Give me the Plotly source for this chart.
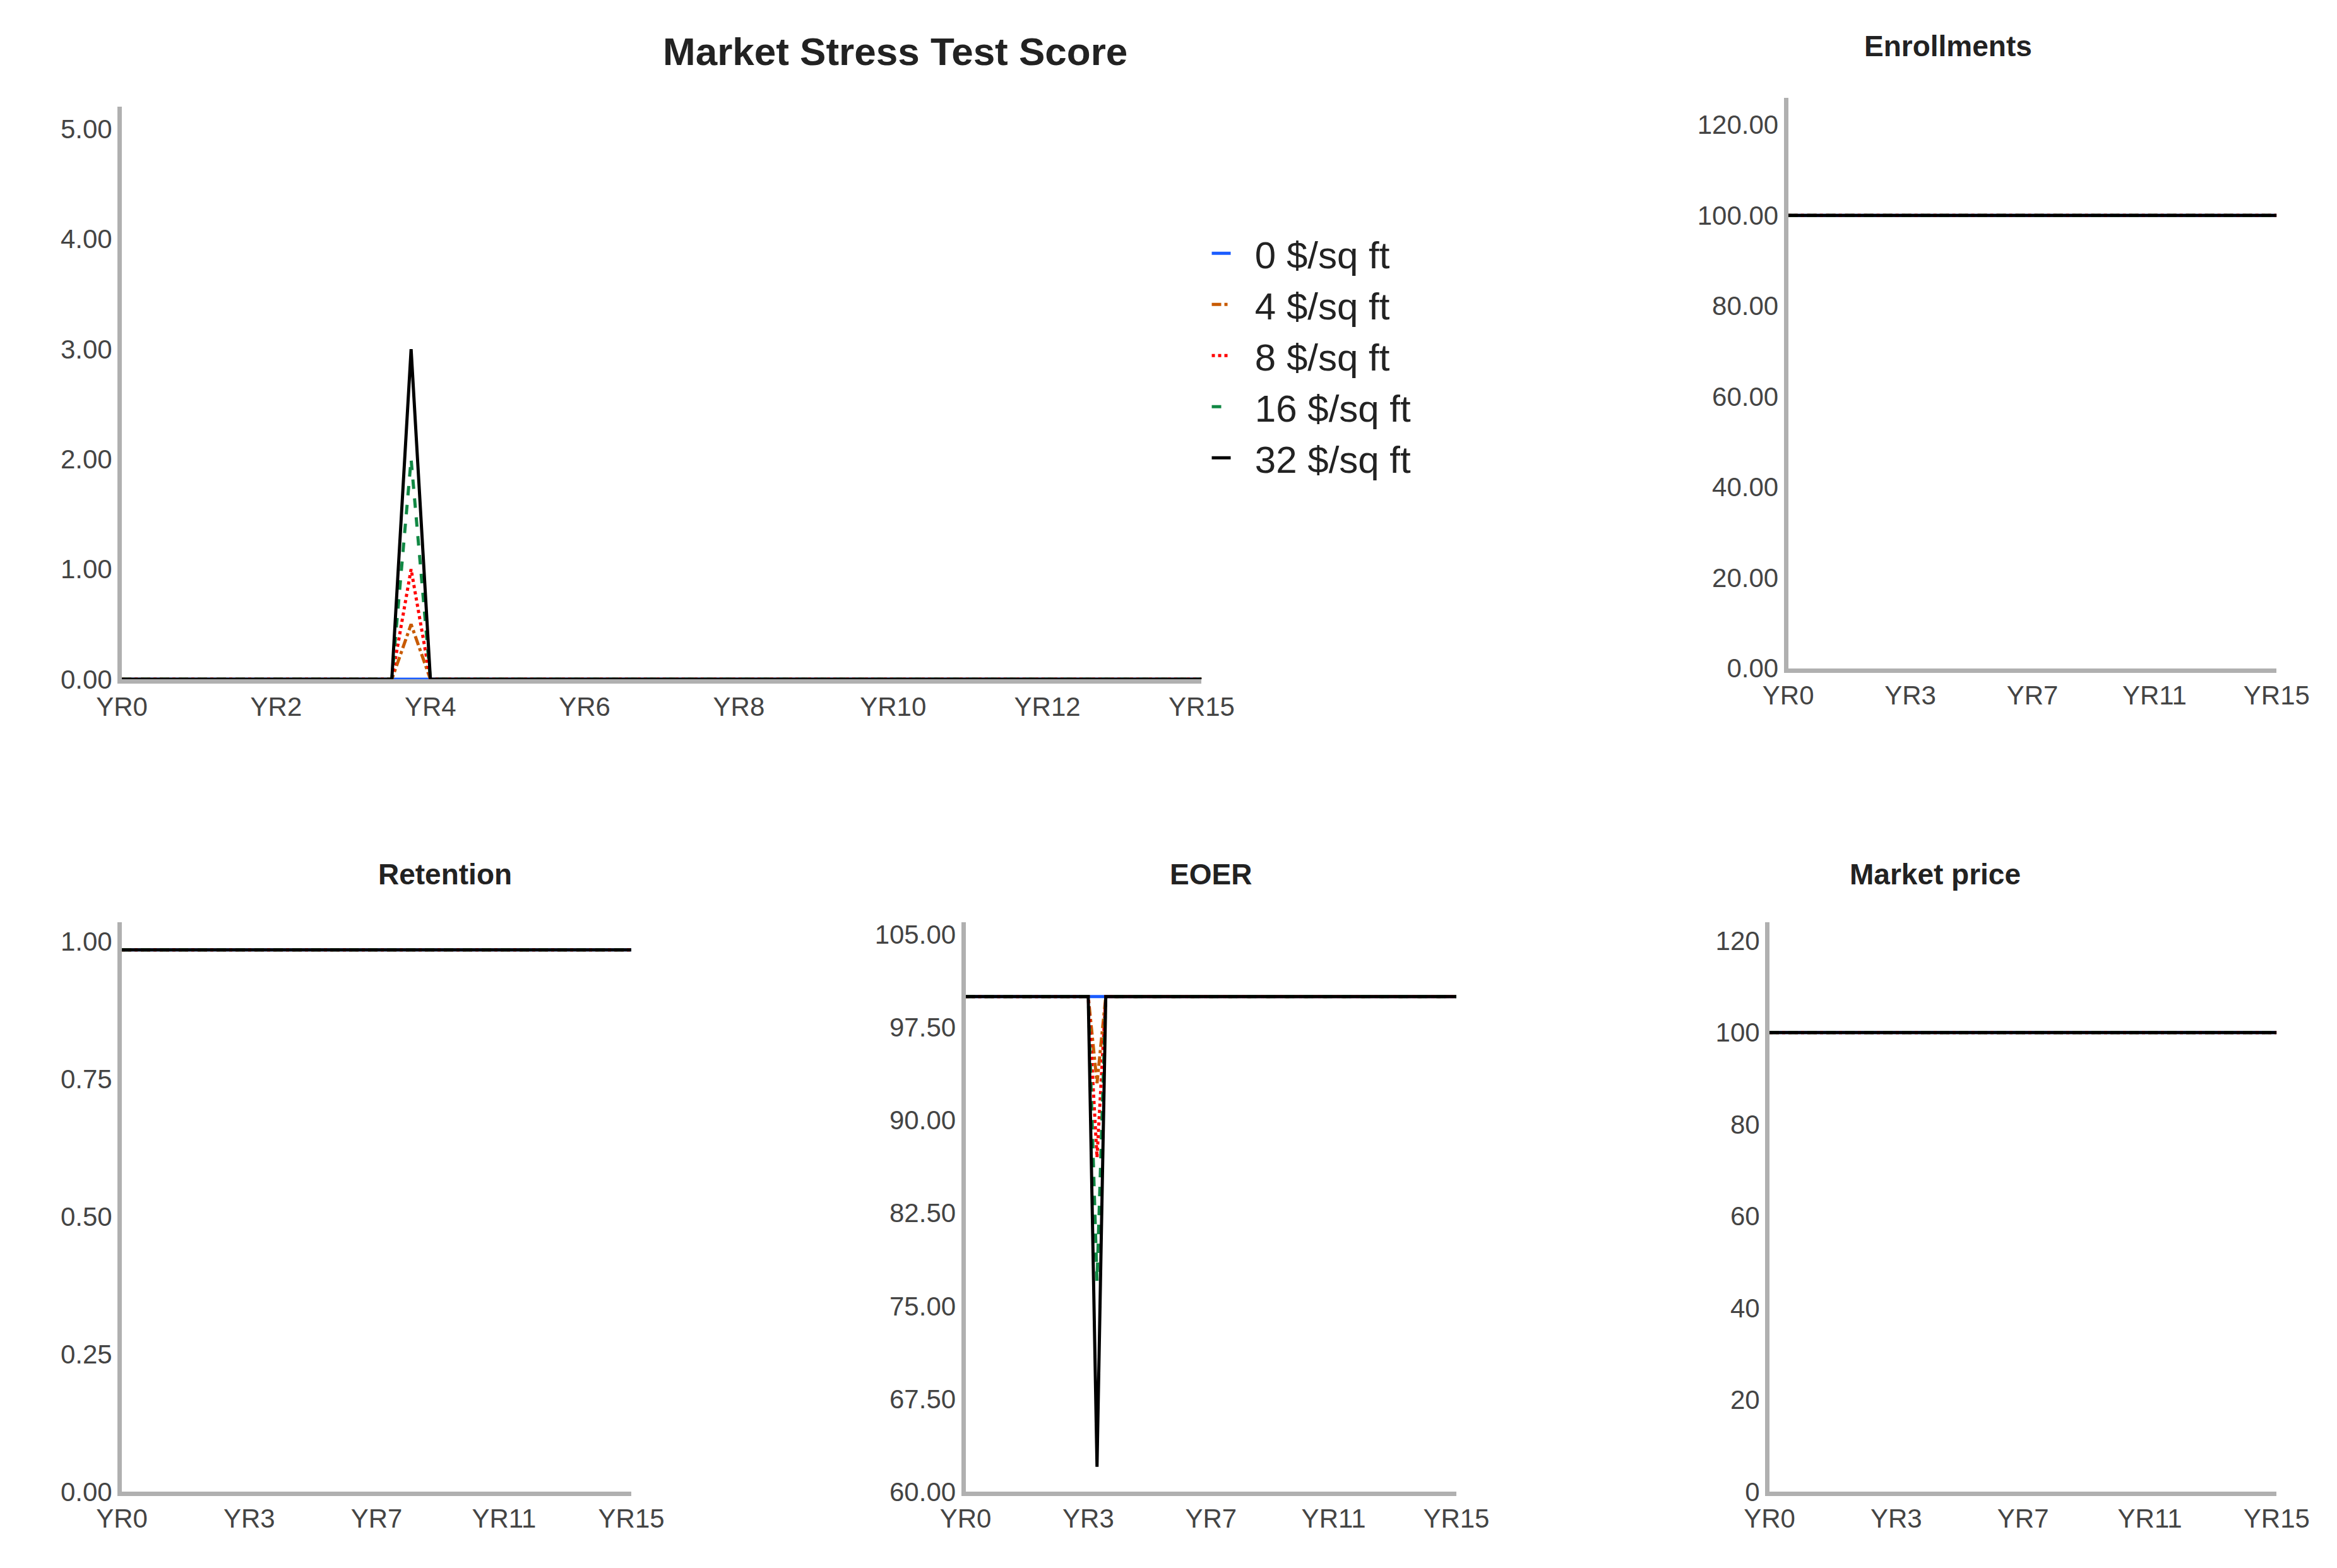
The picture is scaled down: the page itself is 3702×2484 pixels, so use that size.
import plotly.graph_objects as go

series = ["0 $/sq ft", "4 $/sq ft", "8 $/sq ft", "16 $/sq ft", "32 $/sq ft"]
colors = ["#1a5cff", "#c85a00", "#ff0000", "#118844", "#000000"]
dashes = ["solid", "dashdot", "dot", "dash", "solid"]

# x positions (year index) of the sampled points
years = [0, 3.5, 3.75, 4, 14]
stress = {
    "0 $/sq ft": [0, 0, 0, 0, 0],
    "4 $/sq ft": [0, 0, 0.5, 0, 0],
    "8 $/sq ft": [0, 0, 1.0, 0, 0],
    "16 $/sq ft": [0, 0, 2.0, 0, 0],
    "32 $/sq ft": [0, 0, 3.0, 0, 0],
}
eoer = {
    "0 $/sq ft": [100, 100, 100, 100, 100],
    "4 $/sq ft": [100, 100, 93, 100, 100],
    "8 $/sq ft": [100, 100, 87, 100, 100],
    "16 $/sq ft": [100, 100, 77, 100, 100],
    "32 $/sq ft": [100, 100, 62, 100, 100],
}
enroll = [100, 100, 100, 100, 100]
retention = [0.985, 0.985, 0.985, 0.985, 0.985]
mprice = [100, 100, 100, 100, 100]

main_ticks = [0, 2, 4, 6, 8, 10, 12, 14]
main_labels = ["YR0", "YR2", "YR4", "YR6", "YR8", "YR10", "YR12", "YR15"]
small_ticks = [0, 3.5, 7, 10.5, 14]
small_labels = ["YR0", "YR3", "YR7", "YR11", "YR15"]

fig = go.Figure()
panels = [
    ("x", "y", stress),
    ("x2", "y2", {s: enroll for s in series}),
    ("x3", "y3", {s: retention for s in series}),
    ("x4", "y4", eoer),
    ("x5", "y5", {s: mprice for s in series}),
]
for pi, (xa, ya, data) in enumerate(panels):
    for s, c, d in zip(series, colors, dashes):
        fig.add_trace(go.Scatter(x=years, y=data[s], mode="lines", name="  " + s,
                                 line=dict(color=c, dash=d, width=5),
                                 xaxis=xa, yaxis=ya, showlegend=(pi == 0)))

axcommon = dict(showgrid=False, zeroline=False, showline=True, linecolor="#b0b0b0",
                linewidth=7, ticks="", automargin=False, tickfont=dict(size=42, color="#444"))
fig.update_layout(
    width=3702, height=2484, plot_bgcolor="white", paper_bgcolor="white",
    font=dict(family="Liberation Sans, Arial", color="#222"),
    margin=dict(l=0, r=0, t=0, b=0, autoexpand=False),
    legend=dict(x=0.515, y=0.86, xanchor="left", yanchor="top", font=dict(size=60),
                bgcolor="rgba(0,0,0,0)", tracegroupgap=0),
    xaxis=dict(domain=[0.05, 0.512], range=[0, 14], tickvals=main_ticks, ticktext=main_labels, anchor="y", **axcommon),
    yaxis=dict(domain=[0.570, 0.935], range=[0, 5.2], tickvals=[0, 1, 2, 3, 4, 5], tickformat=".2f", anchor="x", **axcommon),
    xaxis2=dict(domain=[0.763, 0.972], range=[0, 14], tickvals=small_ticks, ticktext=small_labels, anchor="y2", **axcommon),
    yaxis2=dict(domain=[0.577, 0.941], range=[0, 126], tickvals=[0, 20, 40, 60, 80, 100, 120], tickformat=".2f", anchor="x2", **axcommon),
    xaxis3=dict(domain=[0.05, 0.268], range=[0, 14], tickvals=small_ticks, ticktext=small_labels, anchor="y3", **axcommon),
    yaxis3=dict(domain=[0.052, 0.415], range=[0, 1.035], tickvals=[0, 0.25, 0.5, 0.75, 1], tickformat=".2f", anchor="x3", **axcommon),
    xaxis4=dict(domain=[0.411, 0.621], range=[0, 14], tickvals=small_ticks, ticktext=small_labels, anchor="y4", **axcommon),
    yaxis4=dict(domain=[0.052, 0.415], range=[60, 106], tickvals=[60, 67.5, 75, 82.5, 90, 97.5, 105], tickformat=".2f", anchor="x4", **axcommon),
    xaxis5=dict(domain=[0.755, 0.972], range=[0, 14], tickvals=small_ticks, ticktext=small_labels, anchor="y5", **axcommon),
    yaxis5=dict(domain=[0.052, 0.415], range=[0, 124], tickvals=[0, 20, 40, 60, 80, 100, 120], anchor="x5", **axcommon),
)
titles = [
    ("Market Stress Test Score", 0.281, 0.985, 62),
    ("Enrollments", 0.868, 0.985, 46),
    ("Retention", 0.159, 0.457, 46),
    ("EOER", 0.516, 0.457, 46),
    ("Market price", 0.863, 0.457, 46),
]
for t, x, y, sz in titles:
    fig.add_annotation(text="<b>" + t + "</b>", x=x, y=y, xref="paper", yref="paper",
                       showarrow=False, yanchor="top", font=dict(size=sz, color="#222"))
fig.write_html("out.html")
